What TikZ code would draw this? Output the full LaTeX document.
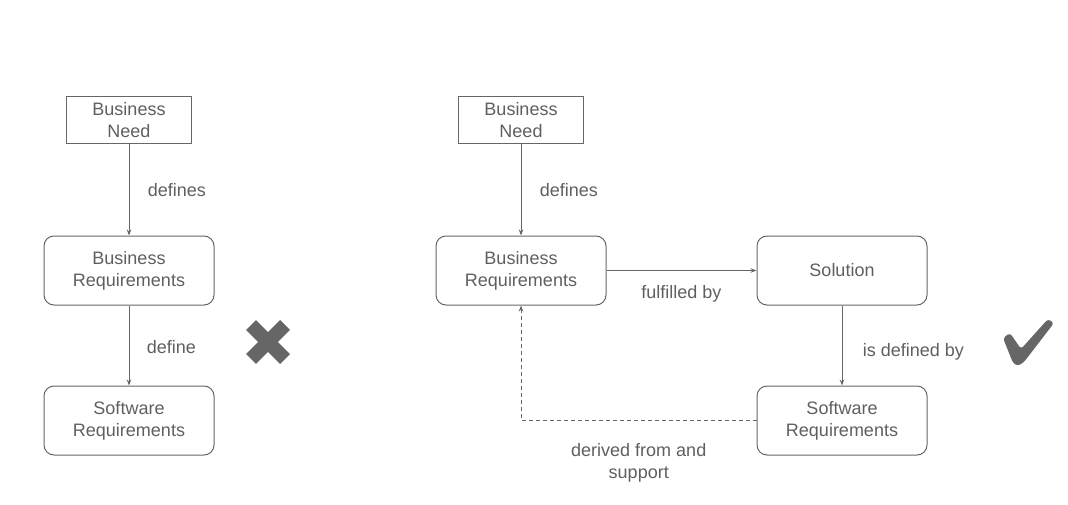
\documentclass[tikz,border=0pt]{standalone}
\usepackage{fontspec}
\setmainfont{Liberation Sans}
\usetikzlibrary{arrows.meta}
\definecolor{ink}{HTML}{666666}
\definecolor{txt}{HTML}{5F5F5F}
\begin{document}
\begin{tikzpicture}[x=1pt, y=-1pt, node distance=150pt,
  every node/.style={font={\fontsize{18}{22}\selectfont}, text=txt, align=center},
  need/.style={draw=ink, line width=1pt, rectangle, minimum width=125pt, minimum height=47pt, inner sep=0pt},
  req/.style={draw=ink, line width=1pt, rectangle, rounded corners=10pt, minimum width=170pt, minimum height=69pt, inner sep=0pt},
  link/.style={draw=ink, line width=1pt, -{Stealth[length=6pt, width=4.5pt]}},
  back/.style={link, dash pattern=on 4pt off 3pt}]
\useasboundingbox (0,0) rectangle (1068,505);
% left: the usual chain
\node[need] (lneed) at (129,120.5) {Business\\Need};
\node[req, below of=lneed] (lbreq) {Business\\Requirements};
\node[req, below of=lbreq] (lsreq) {Software\\Requirements};
\path[link] (lneed) -- node[midway, right=15pt] {defines} (lbreq);
\path[link] (lbreq) -- node[midway, right=14pt, yshift=-2pt] {define} (lsreq);
% cross
\draw[ink, line width=14pt] (251,325) -- (285,359) (285,325) -- (251,359);
% right: the better chain
\node[need] (rneed) at (521,120.5) {Business\\Need};
\node[req, below of=rneed] (rbreq) {Business\\Requirements};
\node[req, node distance=321pt, right of=rbreq] (sol) {Solution};
\node[req, below of=sol] (rsreq) {Software\\Requirements};
\path[link] (rneed) -- node[midway, right=15pt] {defines} (rbreq);
\path[link] (rbreq) -- node[midway, below=11pt] {fulfilled by} (sol);
\path[link] (sol) -- node[midway, right=17pt, yshift=-6pt] {is defined by} (rsreq);
\path[back] (rsreq) -| node[pos=.25, below=19pt] {derived from and\\support} (rbreq);
% check mark
\fill[ink, rounded corners=3pt] (1003,338) -- (1010,333) -- (1021,349) -- (1048,319)
  -- (1054,323) -- (1024,362) -- (1018,366) -- (1013,363) -- cycle;
\end{tikzpicture}
\end{document}
